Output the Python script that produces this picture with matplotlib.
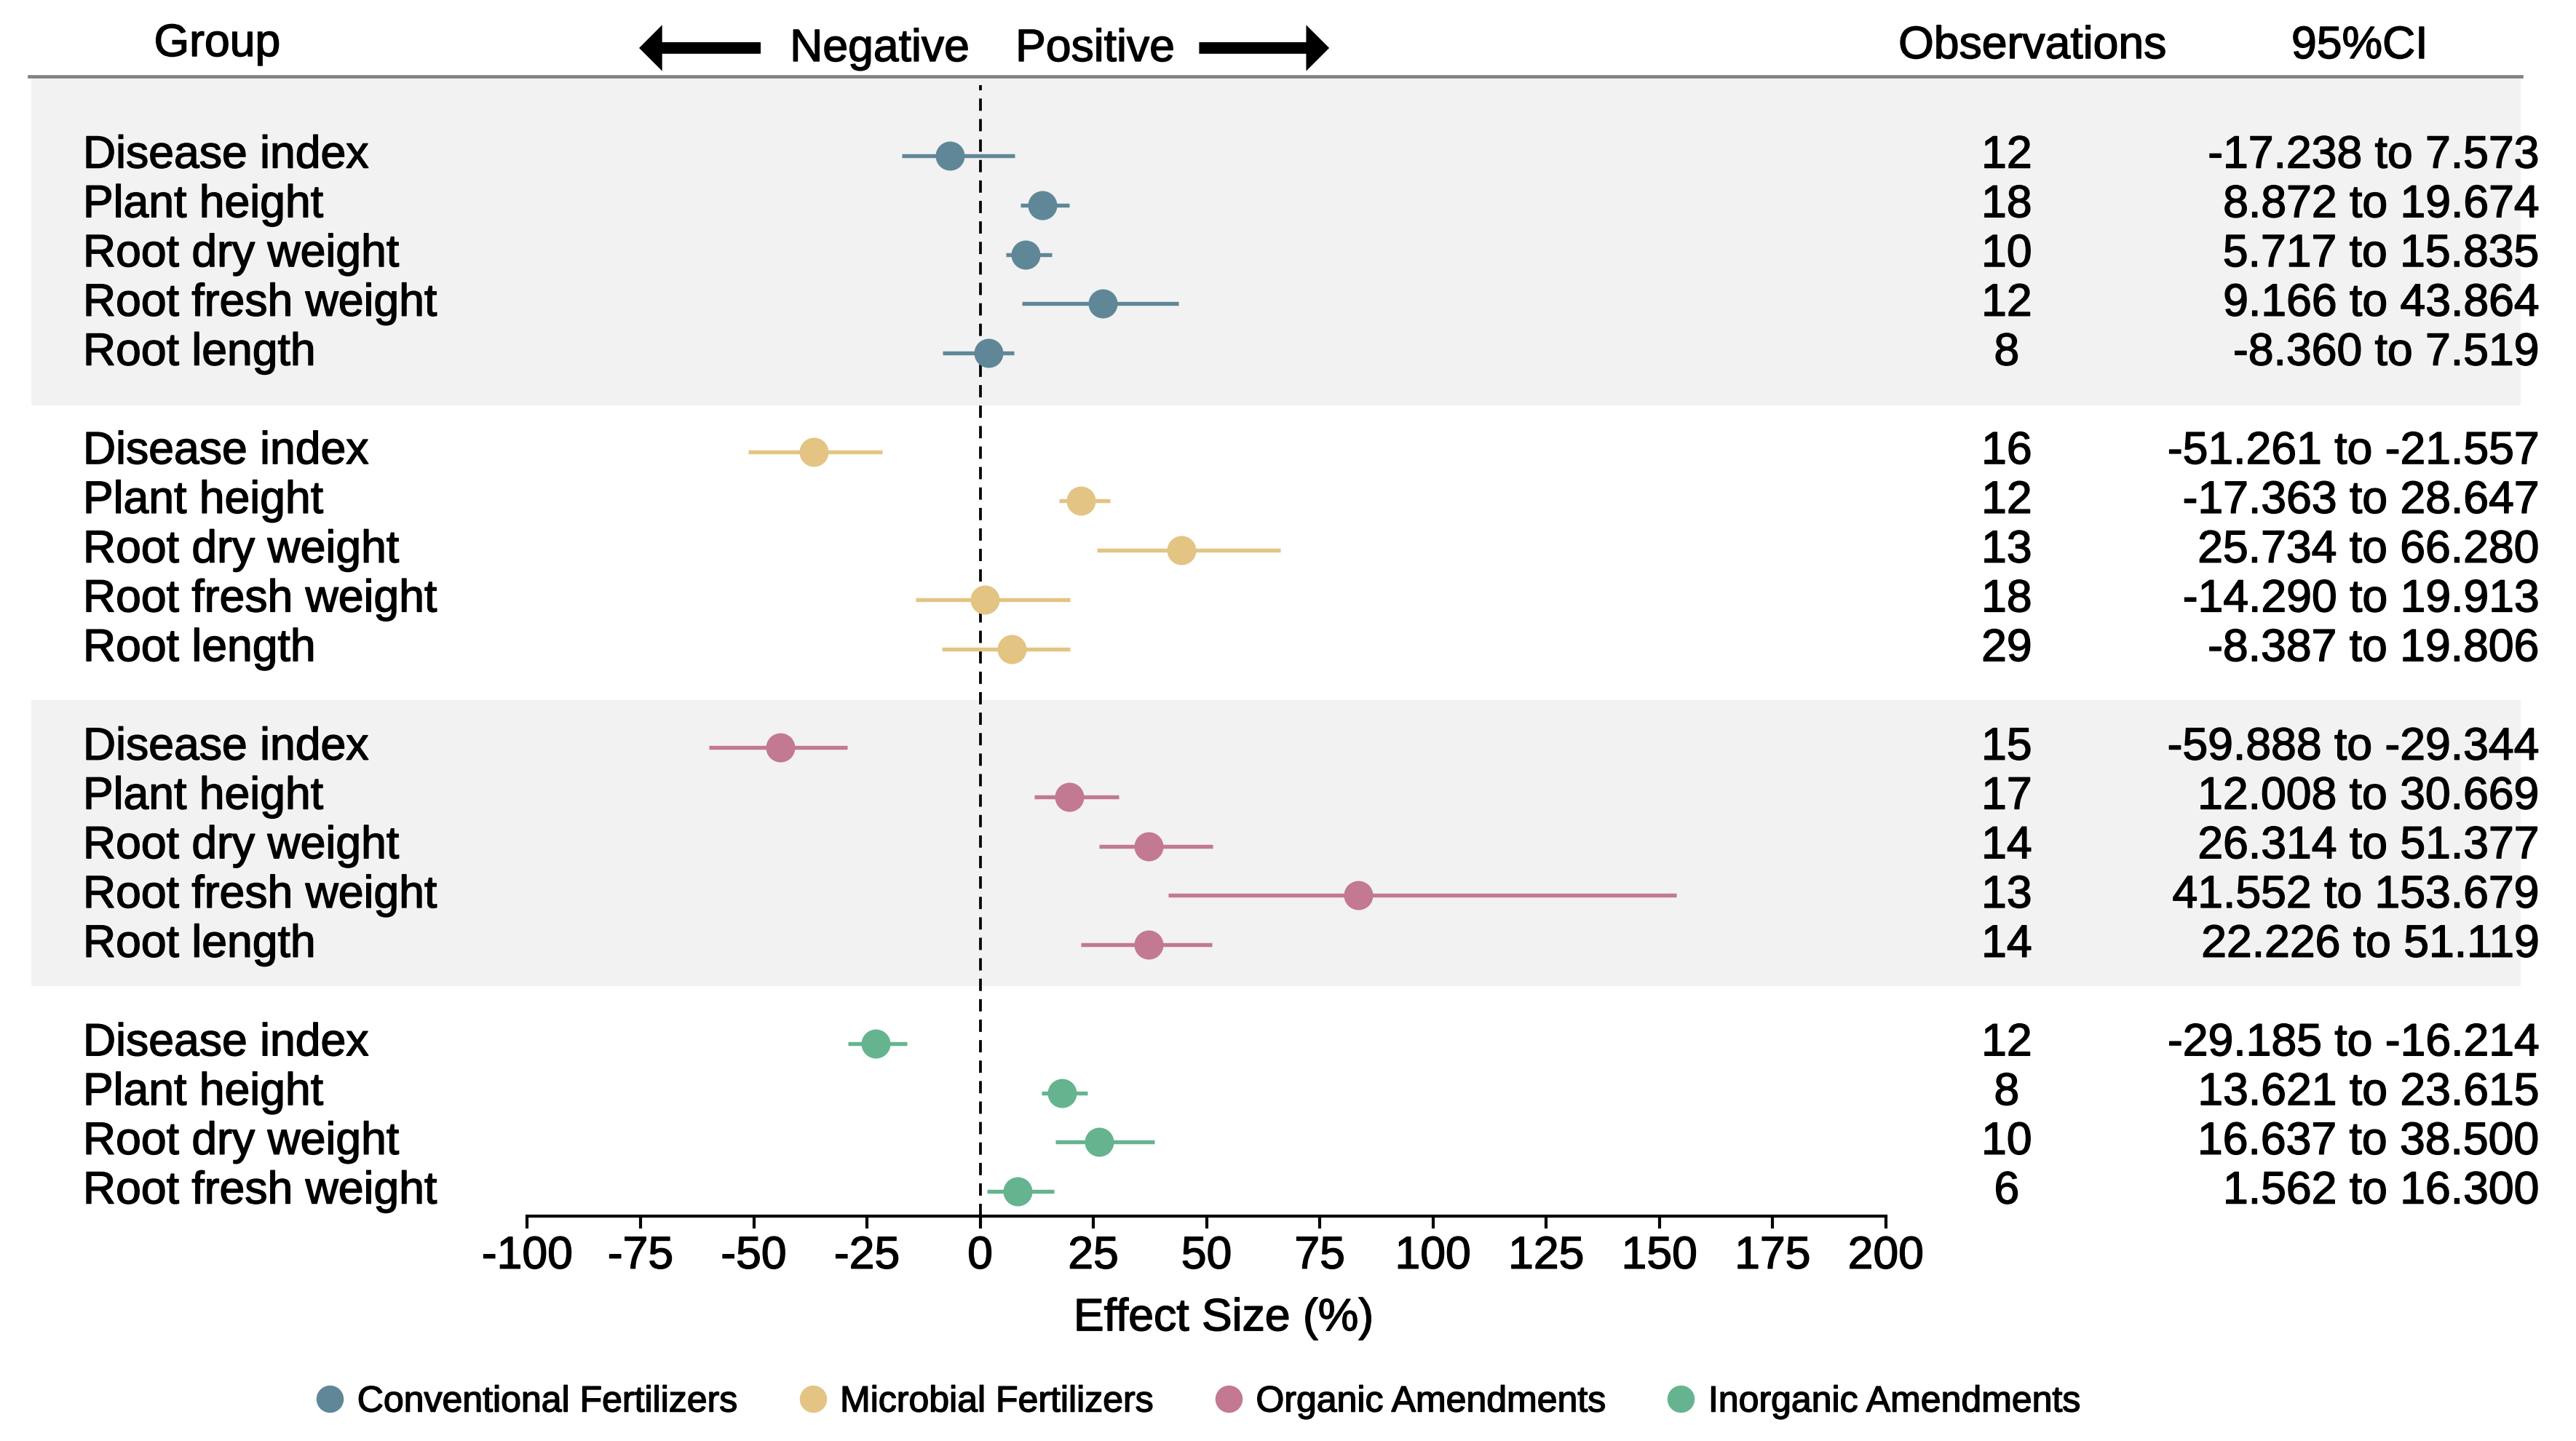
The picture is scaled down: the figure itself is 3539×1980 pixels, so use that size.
#!/usr/bin/env python
# -*- coding: utf-8 -*-

"""
Forest plot of effect sizes by amendment group
"""

import matplotlib
matplotlib.use('Agg')
import matplotlib.pyplot as plt
import matplotlib.transforms as mtransforms
import matplotlib.patheffects as pe
from matplotlib.patches import Rectangle, FancyArrowPatch
from matplotlib.lines import Line2D
from matplotlib.text import Text

plt.rcParams['font.family'] = ['Liberation Sans', 'DejaVu Sans']

# 数据
groups = ['Conventional Fertilizers', 'Microbial Fertilizers',
          'Organic Amendments', 'Inorganic Amendments']
colors = ['#5F8797', '#E3C483', '#C27991', '#65B48F']

outcomes = [
    ['Disease index', 'Plant height', 'Root dry weight', 'Root fresh weight', 'Root length'],
    ['Disease index', 'Plant height', 'Root dry weight', 'Root fresh weight', 'Root length'],
    ['Disease index', 'Plant height', 'Root dry weight', 'Root fresh weight', 'Root length'],
    ['Disease index', 'Plant height', 'Root dry weight', 'Root fresh weight'],
]
effect = [
    [-6.7, 13.8, 10.1, 27.0, 1.8],
    [-36.8, 22.2, 44.5, 1.1, 6.9],
    [-44.1, 19.7, 37.2, 83.5, 37.2],
    [-23.1, 18.0, 26.3, 8.2],
]
ci_low = [
    [-17.238, 8.872, 5.717, 9.166, -8.360],
    [-51.261, 17.363, 25.734, -14.290, -8.387],
    [-59.888, 12.008, 26.314, 41.552, 22.226],
    [-29.185, 13.621, 16.637, 1.562],
]
ci_high = [
    [7.573, 19.674, 15.835, 43.864, 7.519],
    [-21.557, 28.647, 66.280, 19.913, 19.806],
    [-29.344, 30.669, 51.377, 153.679, 51.119],
    [-16.214, 23.615, 38.500, 16.300],
]
ci_text = [
    ['-17.238 to 7.573', '8.872 to 19.674', '5.717 to 15.835', '9.166 to 43.864', '-8.360 to 7.519'],
    ['-51.261 to -21.557', '-17.363 to 28.647', '25.734 to 66.280', '-14.290 to 19.913', '-8.387 to 19.806'],
    ['-59.888 to -29.344', '12.008 to 30.669', '26.314 to 51.377', '41.552 to 153.679', '22.226 to 51.119'],
    ['-29.185 to -16.214', '13.621 to 23.615', '16.637 to 38.500', '1.562 to 16.300'],
]
observations = [
    [12, 18, 10, 12, 8],
    [16, 12, 13, 18, 29],
    [15, 17, 14, 13, 14],
    [12, 8, 10, 6],
]
x_ticks = [-100, -75, -50, -25, 0, 25, 50, 75, 100, 125, 150, 175, 200]

# 画布
fig = plt.figure(figsize=(3539 / 300, 1980 / 300), dpi=300)
ax = fig.add_axes([0.2047, 0.1561, 0.5274, 0.7911])
ax.set_xlim(-100, 200)
ax.set_ylim(21.50, -1.615)
ax.patch.set_visible(False)

fs = 15
# x坐标: figure比例, y坐标: 数据
trans = mtransforms.blended_transform_factory(fig.transFigure, ax.transData)

# 灰色背景带
for y0, y1 in [(-1.58, 5.06), (11.04, 16.84)]:
    ax.add_patch(Rectangle((0.0122, y0), 0.9663, y1 - y0, transform=trans,
                           facecolor='#F2F2F2', edgecolor='none', zorder=0, clip_on=False))

# 零线
ax.axvline(0, ymax=0.992, color='black', lw=0.9, ls=(0, (4.5, 3)), zorder=1)

row = 0
for g in range(len(groups)):
    for i in range(len(outcomes[g])):
        ax.hlines(row, ci_low[g][i], ci_high[g][i], color=colors[g], lw=1.3, zorder=2)
        ax.plot(effect[g][i], row, 'o', ms=9.6, color=colors[g], mec='none', zorder=3)
        ax.text(0.0322, row, outcomes[g][i], transform=trans, fontsize=fs,
                ha='left', va='center', clip_on=False)
        ax.text(0.779, row, str(observations[g][i]), transform=trans, fontsize=fs,
                ha='center', va='center', clip_on=False)
        ax.text(0.9859, row, ci_text[g][i], transform=trans, fontsize=fs,
                ha='right', va='center', clip_on=False)
        row += 1
    row += 1

# 坐标轴
for s in ['top', 'left', 'right']:
    ax.spines[s].set_visible(False)
ax.spines['bottom'].set_linewidth(1.0)
ax.set_yticks([])
ax.set_xticks(x_ticks)
ax.set_xticklabels([str(t) for t in x_ticks])
ax.tick_params(axis='x', length=4, width=1.0, pad=2.2, labelsize=fs)
ax.set_xlabel('Effect Size (%)', fontsize=fs)
ax.xaxis.set_label_coords(0.5125, -0.071)

# 表头
fig.add_artist(Line2D([0.0113, 0.9788], [0.9472, 0.9472], color='#808080', lw=1.1,
                      transform=fig.transFigure))
fig.text(0.0843, 0.9611, 'Group', fontsize=fs, ha='center', va='baseline')
fig.text(0.3764, 0.9576, 'Negative', fontsize=fs, ha='right', va='baseline')
fig.text(0.3942, 0.9576, 'Positive', fontsize=fs, ha='left', va='baseline')
fig.text(0.789, 0.9596, 'Observations', fontsize=fs, ha='center', va='baseline')
fig.text(0.916, 0.9596, '95%CI', fontsize=fs, ha='center', va='baseline')

arrow_style = 'simple,head_length=0.38,head_width=0.76,tail_width=0.19'
for x0, x1 in [(0.2953, 0.2481), (0.4655, 0.5160)]:
    fig.add_artist(FancyArrowPatch((x0, 0.9667), (x1, 0.9667), transform=fig.transFigure,
                                   arrowstyle=arrow_style, mutation_scale=20,
                                   color='black', lw=0, shrinkA=0, shrinkB=0))

# 图例
handles = [Line2D([], [], marker='o', ls='', color=c, mec='none', ms=9) for c in colors]
fig.legend(handles, groups, loc='center', bbox_to_anchor=(0.4651, 0.027), ncol=4,
           frameon=False, fontsize=12, handlelength=0.8, handletextpad=0.35,
           columnspacing=1.66, borderpad=0)

# 文字略加粗
for t in fig.findobj(Text):
    if t.get_text():
        t.set_path_effects([pe.withStroke(linewidth=0.35, foreground='black')])

plt.savefig('out.png', dpi=300)
